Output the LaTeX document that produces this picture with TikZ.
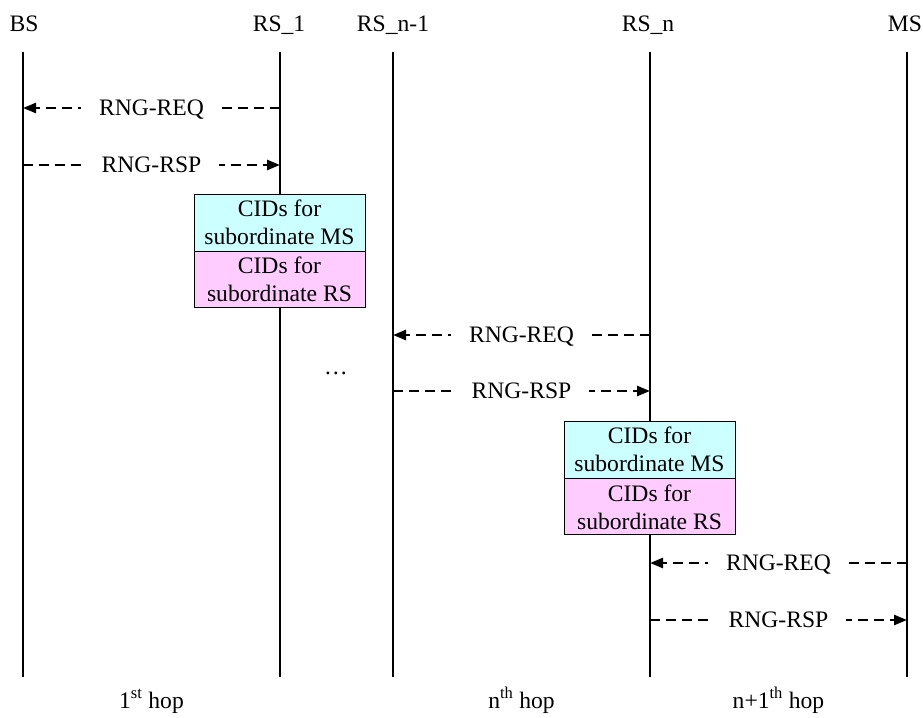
\documentclass[tikz,border=0pt]{standalone}
\usepackage{fontspec}
\setmainfont{Liberation Serif}
\usetikzlibrary{arrows.meta}
\definecolor{msfill}{HTML}{CCFFFF}
\definecolor{rsfill}{HTML}{FFCCFF}
\begin{document}
\begin{tikzpicture}[x=1pt,y=-1pt,
  every node/.style={font=\fontsize{23.6}{28}\selectfont},
  lifeline/.style={line width=1.1pt},
  msg/.style={line width=2.6pt, dash pattern=on 10pt off 6pt,
    -{Triangle[length=13pt,width=10pt]}},
  msglabel/.style={fill=white, inner xsep=18pt, inner ysep=2pt,
    text height=15.5pt, text depth=0pt},
  entity/.style={anchor=base, inner sep=0pt},
  hoplabel/.style={anchor=base, inner sep=0pt},
  cidbox/.style={draw, line width=0.8pt, minimum width=171pt,
    align=center, inner sep=0pt}]
\useasboundingbox (0,0) rectangle (923,717);

% entity names
\node[entity] (bsname)  at (24,32)  {BS};
\node[entity] (rsaname) at (279,32) {RS\_1};
\node[entity] (rsbname) at (393,32) {RS\_n-1};
\node[entity] (rscname) at (648,32) {RS\_n};
\node[entity] (msname)  at (905,32) {MS};

% lifelines
\foreach \n/\x in {bs/23, rsa/280, rsb/393, rsc/650, ms/907} {
  \coordinate (\n-top) at (\x,52);
  \coordinate (\n-bot) at (\x,677);
  \draw[lifeline] (\n-top) -- (\n-bot);
}

% message anchor points on the lifelines
\coordinate (bs-m1)  at (23,108);   \coordinate (rsa-m1) at (280,108);
\coordinate (bs-m2)  at (23,165);   \coordinate (rsa-m2) at (280,165);
\coordinate (rsb-m3) at (393,335);  \coordinate (rsc-m3) at (650,335);
\coordinate (rsb-m4) at (393,391);  \coordinate (rsc-m4) at (650,391);
\coordinate (rsc-m5) at (650,563);  \coordinate (ms-m5)  at (907,563);
\coordinate (rsc-m6) at (650,620);  \coordinate (ms-m6)  at (907,620);

% first hop
\draw[msg] (rsa-m1) -- node[msglabel] (req1) {RNG-REQ} (bs-m1);
\draw[msg] (bs-m2) -- node[msglabel] (rsp1) {RNG-RSP} (rsa-m2);
\node[cidbox, fill=msfill, minimum height=57pt] (cidms1) at (279.5,222.5)
  {CIDs for\\subordinate MS};
\node[cidbox, fill=rsfill, minimum height=56pt, anchor=north] (cidrs1)
  at (cidms1.south) {CIDs for\\subordinate RS};

\node[anchor=base, inner sep=0pt] (dots) at (336,374) {…};

% n-th hop
\draw[msg] (rsc-m3) -- node[msglabel] (req2) {RNG-REQ} (rsb-m3);
\draw[msg] (rsb-m4) -- node[msglabel] (rsp2) {RNG-RSP} (rsc-m4);
\node[cidbox, fill=msfill, minimum height=57pt] (cidms2) at (649.5,449.5)
  {CIDs for\\subordinate MS};
\node[cidbox, fill=rsfill, minimum height=56pt, anchor=north] (cidrs2)
  at (cidms2.south) {CIDs for\\subordinate RS};

% (n+1)-th hop
\draw[msg] (ms-m5) -- node[msglabel] (req3) {RNG-REQ} (rsc-m5);
\draw[msg] (rsc-m6) -- node[msglabel] (rsp3) {RNG-RSP} (ms-m6);

% hop labels
\node[hoplabel] (hop1) at (151.5,708) {1\textsuperscript{st} hop};
\node[hoplabel] (hopn) at (521.5,708) {n\textsuperscript{th} hop};
\node[hoplabel] (hopm) at (778.5,708) {n+1\textsuperscript{th} hop};
\end{tikzpicture}
\end{document}
